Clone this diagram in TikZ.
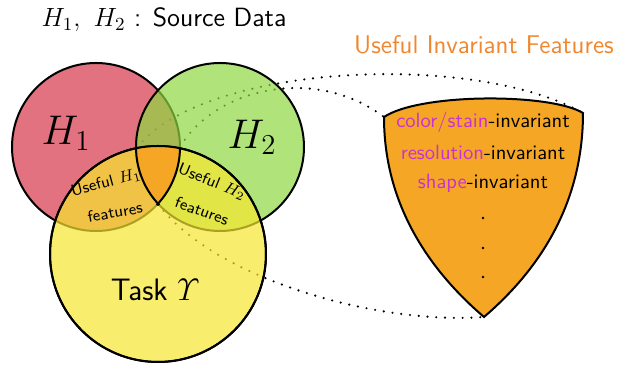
\RequirePackage{fix-cm}
\documentclass[tikz,border=0pt]{standalone}
\usepackage{amsmath}
\definecolor{hone}{RGB}{214,54,72}
\definecolor{htwo}{RGB}{142,216,65}
\definecolor{task}{RGB}{246,229,48}
\definecolor{feat}{RGB}{244,166,36}
\definecolor{mag}{RGB}{200,50,210}
\definecolor{titleor}{RGB}{240,135,47}
\tikzset{
  venn/.style={line width=1pt, fill opacity=0.7},
  outl/.style={line width=1pt},
  dotline/.style={line width=1.2pt, line cap=round, dash pattern=on 0pt off 4.4pt},
  lbl/.style={font=\sffamily, inner sep=1pt},
  small/.style={font=\sffamily\footnotesize, inner sep=0pt},
}
\begin{document}
\begin{tikzpicture}[x=0.5pt,y=-0.5pt]
\useasboundingbox (0,0) rectangle (629,367);
% key points
\coordinate (c1) at (96,147);
\coordinate (c2) at (220,147);
\coordinate (ct) at (158,254);
\coordinate (lensL) at (137,148);
\coordinate (lensR) at (180,147);
\coordinate (lensB) at (158,204);
\coordinate (shTL) at (384,117);
\coordinate (shTR) at (583,113);
\coordinate (shB) at (484,317);
% dotted projection lines
\draw[dotline] (lensL) .. controls (200,65) and (470,50) .. (shTR);
\draw[dotline] (lensR) .. controls (215,88) and (315,65) .. (shTL);
\draw[dotline] (lensB) .. controls (215,280) and (380,325) .. (shB);
% circles
\draw[venn, fill=hone] (c1) circle[radius=42pt];
\draw[venn, fill=htwo] (c2) circle[radius=42pt];
\draw[venn, fill=task] (ct) circle[radius=54pt];
% centre region
\begin{scope}
  \clip (c1) circle[radius=42pt];
  \clip (c2) circle[radius=42pt];
  \fill[feat] (ct) circle[radius=54pt];
\end{scope}
\begin{scope}
  \clip (ct) circle[radius=54pt];
  \clip (c2) circle[radius=43pt];
  \draw[outl] (c1) circle[radius=42pt];
\end{scope}
\begin{scope}
  \clip (ct) circle[radius=54pt];
  \clip (c1) circle[radius=43pt];
  \draw[outl] (c2) circle[radius=42pt];
\end{scope}
\draw[outl] (ct) circle[radius=54pt];
% labels
\node[lbl, font=\sffamily\fontsize{13.2}{16}\selectfont] (title) at (164,20) {$H_1,\ H_2$ : Source Data};
\node[lbl, font=\sffamily\fontsize{12.8}{15}\selectfont, text=titleor] (uif) at (484,45) {Useful Invariant Features};
\node[lbl, font=\huge] (l1) at (66,133) {$H_1$};
\node[lbl, font=\huge] (l2) at (252,137) {$H_2$};
\node[lbl, font=\sffamily\fontsize{15.5}{18}\selectfont] (lt) at (155,290) {Task $\varUpsilon$};
\node[small, rotate=15] (u1) at (106,183) {Useful $H_1$};
\node[small, rotate=10] (f1) at (115,212) {features};
\node[small, rotate=-22] (u2) at (212,182) {Useful $H_2$};
\node[small, rotate=-20] (f2) at (202,211) {features};
% shield
\draw[outl, fill=feat] (shTL) .. controls (384,210) and (435,275) .. (shB)
  .. controls (533,275) and (583,210) .. (shTR)
  .. controls (550,93) and (420,93) .. cycle;
\begin{scope}[every node/.style={lbl, font=\sffamily\fontsize{10.3}{12}\selectfont}]
\node (s1) at (483,122) {\textcolor{mag}{color/stain}-invariant};
\node (s2) at (483,152) {\textcolor{mag}{resolution}-invariant};
\node (s3) at (483,183) {\textcolor{mag}{shape}-invariant};
\end{scope}
\fill (483,218) circle[radius=0.7pt];
\fill (483,248) circle[radius=0.7pt];
\fill (483,277) circle[radius=0.7pt];
\end{tikzpicture}
\end{document}
